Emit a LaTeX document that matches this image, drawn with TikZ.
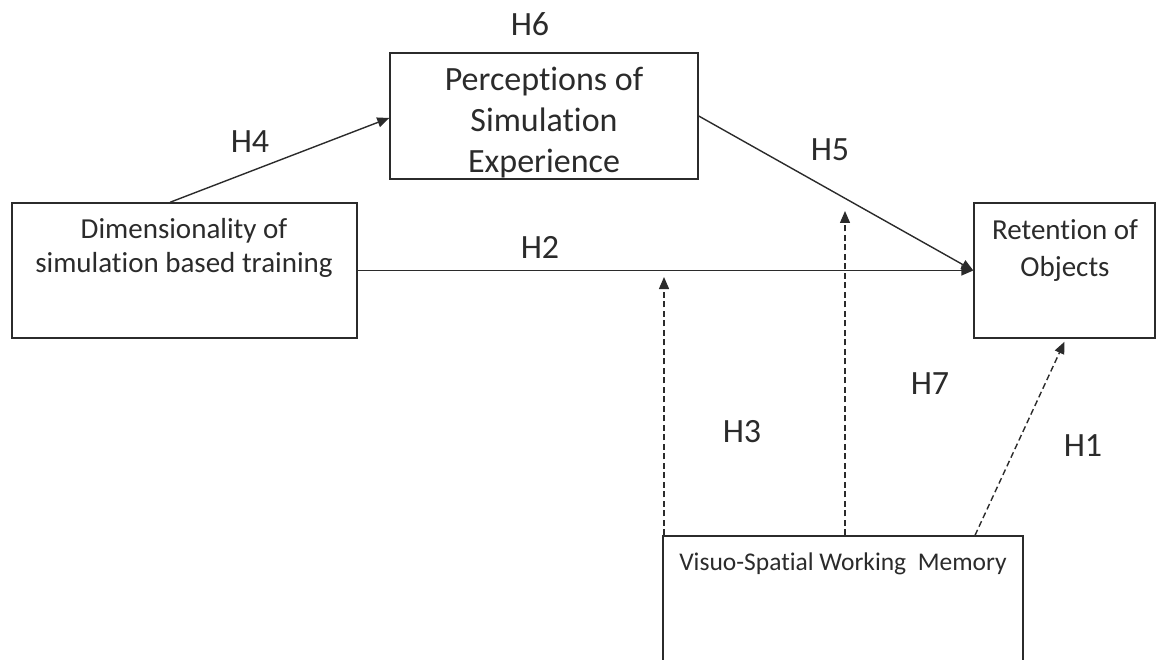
\documentclass[tikz,border=0pt]{standalone}
\usepackage{fontspec}
\setmainfont[Ligatures=NoCommon]{Carlito}
\usetikzlibrary{arrows.meta,calc}
\definecolor{ink}{HTML}{2B2B2B}
\tikzset{
  boxframe/.style={draw=ink, line width=1.4pt, inner sep=0pt, fill=none},
  boxtext/.style={text=ink, inner sep=0pt, align=center},
  hlabel/.style={text=ink, inner sep=0pt, font=\fontsize{34}{40}\selectfont},
  link/.style={draw=ink, line width=1.4pt, -{Triangle[length=12pt,width=10pt]}},
  modlink/.style={link, dash pattern=on 6pt off 3.5pt}
}
\begin{document}
\begin{tikzpicture}[x=1pt,y=-1pt]
  \useasboundingbox (0,0) rectangle (1158,660);
  \clip (0,0) rectangle (1158,660);

  % construct boxes
  \node[boxframe, minimum width=345pt, minimum height=135pt] (dim) at (184.5,270.5) {};
  \node[boxframe, minimum width=308pt, minimum height=126pt] (perc) at (544,116) {};
  \node[boxframe, minimum width=181pt, minimum height=135pt] (ret) at (1064.5,270.5) {};
  \node[boxframe, minimum width=360pt, minimum height=134pt] (vsw) at (843,603) {};

  % box captions
  \node[boxtext, font=\fontsize{29}{34}\selectfont] (dimtext) at (184,248)
    {Dimensionality of\\simulation based training};
  \node[boxtext, font=\fontsize{34}{41}\selectfont] (perctext) at (544,123)
    {Perceptions of\\Simulation\\Experience};
  \node[boxtext, font=\fontsize{29}{37}\selectfont] (rettext) at (1065,251)
    {Retention of\\Objects};
  \node[boxtext, font=\fontsize{25.5}{32}\selectfont, anchor=base] (vswtext) at (843,570)
    {Visuo-Spatial Working\ \ Memory};

  % direct paths
  \draw[link] ([xshift=-14.5pt]dim.north) -- ([yshift=-2pt]perc.west);
  \draw[link] (perc.east) -- (ret.west);
  \draw[link] (dim.east) -- (ret.west);

  % moderating paths from working memory
  \coordinate (h3tip) at (664,277);
  \coordinate (h7tip) at (845,211);
  \draw[modlink] (vsw.north west -| h3tip) -- (h3tip);
  \draw[modlink] (vsw.north west -| h7tip) -- (h7tip);
  \draw[modlink] ([xshift=132pt]vsw.north) -- ([yshift=-3pt]ret.south);

  % hypothesis labels
  \node[hlabel] (H6) at (530,24) {H6};
  \node[hlabel] (H4) at (250,142) {H4};
  \node[hlabel] (H5) at (830,150) {H5};
  \node[hlabel] (H2) at (540,247) {H2};
  \node[hlabel] (H7) at (930,384) {H7};
  \node[hlabel] (H3) at (742,432) {H3};
  \node[hlabel] (H1) at (1083,446) {H1};
\end{tikzpicture}
\end{document}
